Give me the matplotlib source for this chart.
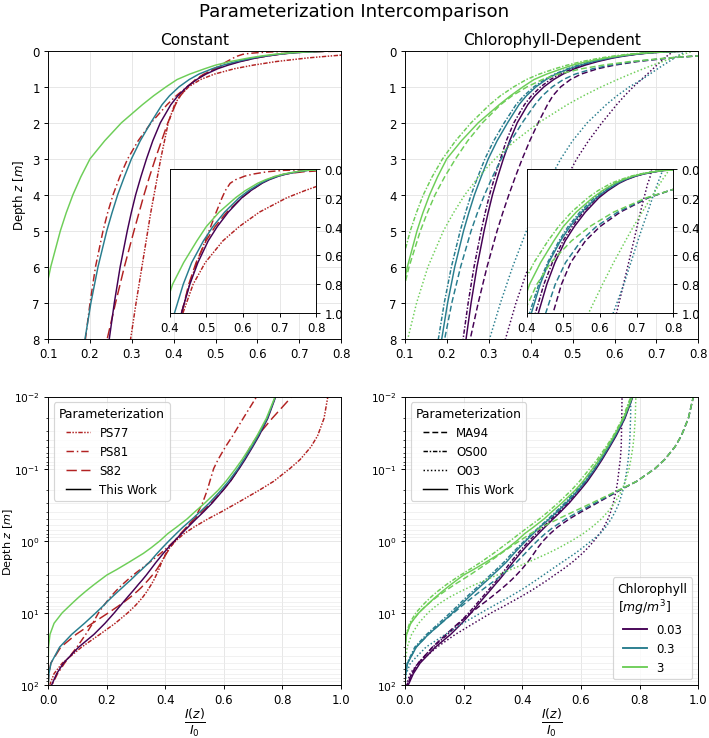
import numpy as np
import matplotlib.pyplot as plt
from matplotlib.lines import Line2D

depth = [0.001, 0.01, 0.02, 0.035, 0.05, 0.075, 0.1, 0.15, 0.2, 0.3, 0.4, 0.5, 0.65, 0.8, 1,
         1.25, 1.5, 2, 2.5, 3, 3.5, 4, 4.5, 5, 6, 7, 8, 10, 14, 20, 30, 50, 70, 100]

chl_labels = ["0.03", "0.3", "3"]

# constant parameterizations (I(z)/I0)
ps77 = [0.99, 0.955, 0.942, 0.92, 0.897, 0.86, 0.825, 0.77, 0.72, 0.645, 0.59, 0.545, 0.497, 0.464, 0.436,
        0.415, 0.402, 0.387, 0.378, 0.369, 0.361, 0.353, 0.345, 0.338, 0.324, 0.31, 0.297, 0.272, 0.229, 0.176, 0.114, 0.048, 0.020, 0.0055]
ps81 = [0.85, 0.712, 0.666, 0.63, 0.605, 0.58, 0.565, 0.552, 0.543, 0.527, 0.512, 0.497, 0.474, 0.454, 0.432,
        0.406, 0.384, 0.346, 0.315, 0.29, 0.271, 0.255, 0.242, 0.231, 0.213, 0.2, 0.189, 0.172, 0.152, 0.128, 0.098, 0.056, 0.032, 0.013]
s82 = [0.97, 0.832, 0.765, 0.715, 0.69, 0.668, 0.651, 0.622, 0.597, 0.556, 0.524, 0.499, 0.472, 0.452, 0.433,
       0.416, 0.404, 0.386, 0.371, 0.356, 0.342, 0.329, 0.317, 0.305, 0.282, 0.261, 0.241, 0.206, 0.151, 0.095, 0.043, 0.009, 0.002, 0.0002]

# this work, chl = 0.03, 0.3, 3 mg/m3
tw_003 = [0.92, 0.777, 0.75, 0.72, 0.698, 0.672, 0.652, 0.622, 0.597, 0.56, 0.53, 0.505, 0.477, 0.455, 0.432,
          0.41, 0.393, 0.368, 0.35, 0.335, 0.3215, 0.309, 0.2985, 0.289, 0.272, 0.258, 0.246, 0.226, 0.194, 0.156, 0.104, 0.052, 0.029, 0.012]
tw_03 = [0.92, 0.776, 0.748, 0.717, 0.695, 0.668, 0.648, 0.616, 0.59, 0.55, 0.518, 0.492, 0.46, 0.437, 0.413,
         0.39, 0.372, 0.345, 0.32, 0.299, 0.282, 0.266, 0.2525, 0.24, 0.219, 0.202, 0.188, 0.163, 0.124, 0.08, 0.039, 0.0095, 0.0025, 0.0003]
tw_3 = [0.92, 0.775, 0.745, 0.713, 0.69, 0.662, 0.64, 0.607, 0.58, 0.535, 0.5, 0.474, 0.438, 0.408, 0.382,
        0.352, 0.325, 0.275, 0.235, 0.2, 0.178, 0.159, 0.143, 0.129, 0.106, 0.088, 0.073, 0.048, 0.02, 0.006, 0.001, 0.0, 0.0, 0.0]

# chlorophyll dependent parameterizations
ma94_003 = [0.998, 0.983, 0.966, 0.942, 0.92, 0.885, 0.852, 0.79, 0.732, 0.655, 0.6, 0.56, 0.52, 0.495, 0.472,
            0.453, 0.44, 0.418, 0.398, 0.38, 0.3635, 0.348, 0.3335, 0.32, 0.296, 0.275, 0.256, 0.226, 0.182, 0.14, 0.094, 0.046, 0.023, 0.008]
ma94_03 = [0.998, 0.983, 0.966, 0.942, 0.92, 0.885, 0.852, 0.79, 0.73, 0.648, 0.59, 0.548, 0.506, 0.478, 0.452,
           0.428, 0.41, 0.38, 0.353, 0.33, 0.309, 0.29, 0.273, 0.258, 0.233, 0.212, 0.195, 0.167, 0.123, 0.08, 0.038, 0.0095, 0.0025, 0.0003]
ma94_3 = [0.998, 0.983, 0.966, 0.942, 0.92, 0.885, 0.852, 0.79, 0.727, 0.637, 0.572, 0.522, 0.466, 0.428, 0.392,
          0.356, 0.328, 0.285, 0.25, 0.221, 0.195, 0.172, 0.1535, 0.137, 0.11, 0.089, 0.072, 0.047, 0.02, 0.0055, 0.0007, 0.0, 0.0, 0.0]

os00_003 = [0.91, 0.774, 0.748, 0.717, 0.695, 0.668, 0.648, 0.617, 0.592, 0.554, 0.524, 0.499, 0.47, 0.447, 0.424,
            0.402, 0.385, 0.36, 0.342, 0.328, 0.3145, 0.302, 0.2915, 0.282, 0.265, 0.251, 0.239, 0.218, 0.185, 0.146, 0.095, 0.046, 0.025, 0.0095]
os00_03 = [0.91, 0.772, 0.745, 0.714, 0.69, 0.662, 0.641, 0.61, 0.584, 0.545, 0.513, 0.488, 0.457, 0.433, 0.408,
           0.384, 0.365, 0.337, 0.312, 0.291, 0.274, 0.258, 0.2445, 0.232, 0.211, 0.194, 0.18, 0.155, 0.116, 0.074, 0.034, 0.008, 0.002, 0.0002]
os00_3 = [0.91, 0.77, 0.742, 0.71, 0.685, 0.655, 0.63, 0.595, 0.567, 0.522, 0.487, 0.458, 0.42, 0.39, 0.36,
          0.328, 0.302, 0.258, 0.221, 0.19, 0.165, 0.144, 0.1275, 0.113, 0.09, 0.073, 0.059, 0.038, 0.016, 0.0045, 0.0007, 0.0, 0.0, 0.0]

o03_003 = [0.74, 0.74, 0.739, 0.738, 0.737, 0.734, 0.73, 0.725, 0.72, 0.71, 0.701, 0.692, 0.678, 0.664, 0.645,
           0.624, 0.605, 0.57, 0.538, 0.51, 0.487, 0.465, 0.446, 0.428, 0.395, 0.365, 0.34, 0.295, 0.235, 0.172, 0.11, 0.045, 0.018, 0.005]
o03_03 = [0.77, 0.77, 0.769, 0.767, 0.765, 0.761, 0.757, 0.75, 0.743, 0.73, 0.716, 0.703, 0.684, 0.665, 0.636,
          0.606, 0.58, 0.535, 0.5, 0.472, 0.4485, 0.427, 0.408, 0.39, 0.357, 0.328, 0.302, 0.26, 0.198, 0.138, 0.072, 0.019, 0.005, 0.0007]
o03_3 = [0.79, 0.787, 0.785, 0.781, 0.777, 0.77, 0.764, 0.751, 0.739, 0.715, 0.691, 0.669, 0.637, 0.607, 0.569,
         0.526, 0.487, 0.419, 0.363, 0.315, 0.276, 0.243, 0.216, 0.192, 0.155, 0.128, 0.107, 0.079, 0.047, 0.023, 0.008, 0.001, 0.0001, 0.0]

chl_colors = plt.cm.viridis([0.0, 0.42, 0.78])
red = "firebrick"

# drawn at 85 dpi so that default font sizes come out a bit smaller
fig = plt.figure(figsize=(709 / 85, 739 / 85), dpi=85)
ax_tl = fig.add_axes([0.068, 0.540, 0.413, 0.390])
ax_tr = fig.add_axes([0.571, 0.540, 0.414, 0.390])
ax_bl = fig.add_axes([0.068, 0.072, 0.413, 0.390])
ax_br = fig.add_axes([0.571, 0.072, 0.414, 0.390])
fig.suptitle("Parameterization Intercomparison", fontsize=15.5, y=0.984, va="center")

ps77_ls = (0, (3, 1, 1, 1, 1, 1))
ps81_ls = (0, (5, 2, 1, 2))
s82_ls = (0, (7, 3))
ma94_ls = (0, (4, 2))
os00_ls = (0, (3, 1.2, 1, 1.2))
o03_ls = (0, (1, 1.5))
lw = 1.25

tw = [tw_003, tw_03, tw_3]
ma94 = [ma94_003, ma94_03, ma94_3]
os00 = [os00_003, os00_03, os00_3]
o03 = [o03_003, o03_03, o03_3]


def draw_constant(ax):
    ax.plot(ps77, depth, color=red, ls=ps77_ls, lw=lw)
    ax.plot(ps81, depth, color=red, ls=ps81_ls, lw=lw)
    ax.plot(s82, depth, color=red, ls=s82_ls, lw=lw)
    for vals, c in zip(tw, chl_colors):
        ax.plot(vals, depth, color=c, ls="-", lw=lw)


def draw_chl(ax):
    for i, c in enumerate(chl_colors):
        ax.plot(ma94[i], depth, color=c, ls=ma94_ls, lw=lw)
        ax.plot(os00[i], depth, color=c, ls=os00_ls, lw=lw)
        ax.plot(o03[i], depth, color=c, ls=o03_ls, lw=lw)
        ax.plot(tw[i], depth, color=c, ls="-", lw=lw)


def style_linear(ax):
    ax.set_xlim(0.1, 0.8)
    ax.set_ylim(8, 0)
    ax.set_xticks(np.arange(0.1, 0.81, 0.1))
    ax.set_yticks(range(0, 9))
    ax.grid(True, color="#e6e6e6", lw=0.8)
    ax.set_axisbelow(True)


def add_inset(ax, draw):
    ins = ax.inset_axes([0.415, 0.09, 0.5, 0.5])
    draw(ins)
    ins.set_xlim(0.4, 0.8)
    ins.set_ylim(1.0, 0.0)
    ins.set_xticks([0.4, 0.5, 0.6, 0.7, 0.8])
    ins.set_yticks([0.0, 0.2, 0.4, 0.6, 0.8, 1.0])
    ins.yaxis.tick_right()
    ins.grid(True, color="#e6e6e6", lw=0.8)
    ins.set_facecolor("white")
    return ins


def style_log(ax):
    ax.set_yscale("log")
    ax.set_xlim(0, 1)
    ax.set_ylim(100, 0.01)
    ax.set_xticks(np.arange(0, 1.01, 0.2))
    ax.tick_params(axis="y", labelsize=9)
    ax.grid(True, which="major", color="#e6e6e6", lw=0.8)
    ax.grid(True, which="minor", axis="y", color="#ececec", lw=0.6)
    ax.set_xlabel(r"$\frac{I(z)}{I_0}$", fontsize=15, labelpad=0)


for ax in (ax_tl, ax_bl):
    draw_constant(ax)
for ax in (ax_tr, ax_br):
    draw_chl(ax)

for ax in (ax_tl, ax_tr):
    style_linear(ax)
add_inset(ax_tl, draw_constant)
add_inset(ax_tr, draw_chl)
for ax in (ax_bl, ax_br):
    style_log(ax)

ax_tl.set_title("Constant", fontsize=13)
ax_tr.set_title("Chlorophyll-Dependent", fontsize=13)
ax_tl.set_ylabel("Depth $z$ [$m$]")
ax_bl.set_ylabel("Depth $z$ [$m$]", fontsize=9.5)
ax_bl.yaxis.set_label_coords(-0.113, 0.5)

# legends
h_const = [
    Line2D([], [], color=red, ls=ps77_ls, lw=lw, label="PS77"),
    Line2D([], [], color=red, ls=ps81_ls, lw=lw, label="PS81"),
    Line2D([], [], color=red, ls=s82_ls, lw=lw, label="S82"),
    Line2D([], [], color="black", ls="-", lw=lw, label="This Work"),
]
ax_bl.legend(handles=h_const, title="Parameterization", loc="upper left", fontsize=10, title_fontsize=10.5)

h_chl = [
    Line2D([], [], color="black", ls=ma94_ls, lw=lw, label="MA94"),
    Line2D([], [], color="black", ls=os00_ls, lw=lw, label="OS00"),
    Line2D([], [], color="black", ls=o03_ls, lw=lw, label="O03"),
    Line2D([], [], color="black", ls="-", lw=lw, label="This Work"),
]
leg1 = ax_br.legend(handles=h_chl, title="Parameterization", loc="upper left", fontsize=10, title_fontsize=10.5)
ax_br.add_artist(leg1)
h_col = [Line2D([], [], color=c, lw=1.6, label=l) for c, l in zip(chl_colors, chl_labels)]
ax_br.legend(handles=h_col, title="Chlorophyll\n[$mg/m^3$]", loc="lower right", fontsize=10, title_fontsize=10.5)

fig.savefig("out.png", dpi=85)
